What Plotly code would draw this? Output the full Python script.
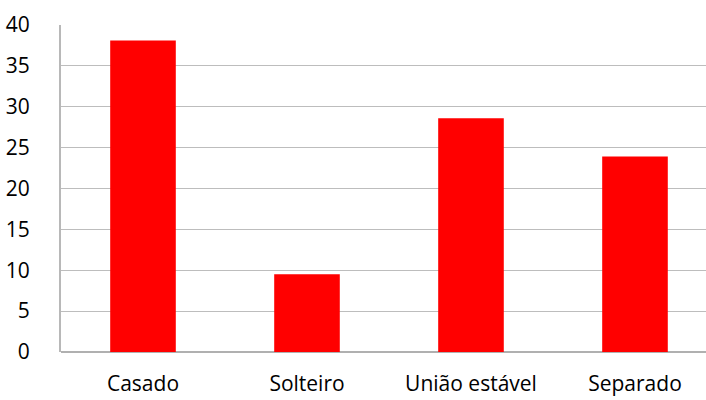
import plotly.graph_objects as go

# Estado civil distribution
categories = ["Casado", "Solteiro", "União estável", "Separado"]
values = [38.1, 9.5, 28.6, 23.9]
y_ticks = [0, 5, 10, 15, 20, 25, 30, 35, 40]

fig = go.Figure(
    go.Bar(
        x=list(range(len(categories))),
        y=values,
        width=0.40,
        marker=dict(color="#ff0000", line=dict(width=0)),
        hoverinfo="skip",
    )
)

font_family = "'Open Sans', Lato, sans-serif"

fig.update_layout(
    width=706,
    height=400,
    margin=dict(l=61, r=0, t=25, b=48),
    paper_bgcolor="white",
    plot_bgcolor="white",
    showlegend=False,
    font=dict(family=font_family, size=21, color="#000000"),
)

fig.update_xaxes(
    range=[-0.5, 3.433],
    tickmode="array",
    tickvals=list(range(len(categories))),
    ticktext=categories,
    showgrid=False,
    zeroline=False,
    showline=False,
    ticks="",
    ticklabelstandoff=17,
    tickfont=dict(size=21),
    automargin=False,
)

fig.update_yaxes(
    range=[0, 40],
    tickmode="array",
    tickvals=y_ticks,
    ticktext=[str(t) for t in y_ticks],
    showgrid=True,
    gridcolor="#bdbdbd",
    gridwidth=1.3,
    zeroline=True,
    zerolinecolor="#b0b0b0",
    zerolinewidth=2,
    showline=True,
    linecolor="#b8b8b8",
    linewidth=2,
    ticks="",
    ticklabelstandoff=25,
    tickfont=dict(size=21),
    automargin=False,
)

fig.write_html("out.html")
